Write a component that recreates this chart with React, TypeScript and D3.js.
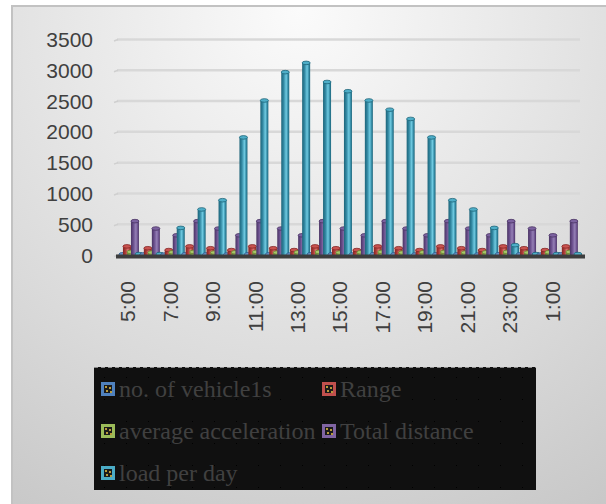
import React from 'react';
import * as d3 from 'd3';

// Hourly categories (5:00 through 2:00 of the next day)
const hours = [
  '5:00', '6:00', '7:00', '8:00', '9:00', '10:00', '11:00', '12:00', '13:00', '14:00', '15:00',
  '16:00', '17:00', '18:00', '19:00', '20:00', '21:00', '22:00', '23:00', '0:00', '1:00', '2:00',
];
const tickHours = ['5:00', '7:00', '9:00', '11:00', '13:00', '15:00', '17:00', '19:00', '21:00', '23:00', '1:00'];
const yTicks = [0, 500, 1000, 1500, 2000, 2500, 3000, 3500];

const seriesNames = ['no. of vehicle1s', 'Range', 'average acceleration', 'Total distance', 'load per day'];

const vehicles = [12, 10, 8, 12, 10, 8, 12, 10, 8, 12, 10, 8, 12, 10, 8, 12, 10, 8, 12, 10, 8, 12];
const rangeKm = [140, 110, 80, 140, 110, 80, 140, 110, 80, 140, 110, 80, 140, 110, 80, 140, 110, 80, 140, 110, 80, 140];
const avgAccel = [50, 40, 45, 50, 40, 45, 50, 40, 45, 50, 40, 45, 50, 40, 45, 50, 40, 45, 50, 40, 45, 50];
const totalDistance = [550, 430, 320, 550, 430, 320, 550, 430, 320, 550, 430, 320, 550, 430, 320, 550, 430, 320, 550, 430, 320, 550];
const loadPerDay = [15, 15, 440, 740, 890, 1910, 2510, 2970, 3120, 2810, 2660, 2510, 2360, 2210, 1910, 890, 740, 440, 160, 15, 15, 15];

const seriesValues = [vehicles, rangeKm, avgAccel, totalDistance, loadPerDay];

// Cylinder shading per series: edge, body, highlight, cap
const palette = [
  { key: '#4f81bd', edge: '#2c5a8c', body: '#4676b0', light: '#82a9d8', cap: '#6b95c9' },
  { key: '#c0504d', edge: '#852523', body: '#ad3b37', light: '#dc7672', cap: '#c9534f' },
  { key: '#9bbb59', edge: '#6a8430', body: '#8fb04c', light: '#bcd682', cap: '#a8c66a' },
  { key: '#8064a2', edge: '#4a3463', body: '#6a4f8d', light: '#9580b6', cap: '#7c62a0' },
  { key: '#4bacc6', edge: '#1d6479', body: '#3288a2', light: '#6fcae1', cap: '#4eaec8' },
];

const W = 606;
const H = 504;

export default function App() {
  const y = d3.scaleLinear().domain([0, 3500]).range([255, 39.5]);
  const xBack = d3.scaleBand<string>().domain(hours).range([120.5, 580.3]);
  const xFront = d3.scaleBand<string>().domain(hours).range([117, 584]);
  const offset = d3.scalePoint<string>().domain(seriesNames).range([-8, 8]);
  const barW = 8;
  const bw = xBack.bandwidth();

  const legendCols = [101, 322];
  const legendRows = [382, 424, 466];

  return (
    <svg
      width={W}
      height={H}
      style={{ position: 'absolute', left: 0, top: 0, display: 'block' }}
      xmlns="http://www.w3.org/2000/svg"
    >
      <defs>
        <radialGradient id="bg" gradientUnits="userSpaceOnUse" cx={300} cy={10} r={640}>
          <stop offset="0" stopColor="#fbfbfb" />
          <stop offset="0.42" stopColor="#e4e4e4" />
          <stop offset="0.6" stopColor="#dadada" />
          <stop offset="0.85" stopColor="#cbcbcb" />
          <stop offset="1" stopColor="#c2c2c2" />
        </radialGradient>
        {palette.map((p, i) => (
          <linearGradient key={i} id={`cyl${i}`} x1="0" x2="1" y1="0" y2="0">
            <stop offset="0" stopColor={p.edge} />
            <stop offset="0.3" stopColor={p.body} />
            <stop offset="0.62" stopColor={p.light} />
            <stop offset="0.85" stopColor={p.body} />
            <stop offset="1" stopColor={p.edge} />
          </linearGradient>
        ))}
        <pattern id="dots" width={22} height={22} patternUnits="userSpaceOnUse" x={94} y={367}>
          <rect width={22} height={22} fill="#101010" />
          <rect x={10} y={10} width={1} height={1} fill="#000000" />
        </pattern>
      </defs>

      <rect x={0} y={0} width={W} height={H} fill="#ffffff" />
      <rect x={11} y={6} width={W} height={H} fill="url(#bg)" />
      <line x1={11} x2={W} y1={6} y2={6} stroke="#c2c2c2" strokeWidth={2} />
      <line x1={12} x2={12} y1={6} y2={H} stroke="#c2c2c2" strokeWidth={2} />

      {/* back-wall gridlines */}
      {yTicks.map((t) => (
        <g key={t}>
          <line x1={117} x2={580} y1={y(t)} y2={y(t)} stroke="#d8d8d8" strokeWidth={2.5} />
          <line x1={114} x2={118} y1={y(t) + 1.5} y2={y(t)} stroke="#cfcfcf" strokeWidth={1.5} />
        </g>
      ))}

      {/* y axis labels */}
      {yTicks.map((t) => (
        <text
          key={t}
          x={93}
          y={y(t)}
          dy="0.36em"
          textAnchor="end"
          fontFamily="'Liberation Sans', Arial, sans-serif"
          fontSize={21}
          fill="#404040"
        >
          {t}
        </text>
      ))}

      {/* cylinders */}
      {hours.map((h, hi) => (
        <g key={h}>
          {seriesNames.map((s, si) => {
            const v = seriesValues[si][hi];
            const cx = (xBack(h) ?? 0) + bw / 2 + (offset(s) ?? 0);
            const top = y(v);
            const bottom = y(0);
            return (
              <g key={s}>
                <rect x={cx - barW / 2} y={top} width={barW} height={Math.max(0, bottom - top)} fill={`url(#cyl${si})`} />
                <ellipse cx={cx} cy={top} rx={barW / 2} ry={1.8} fill={palette[si].cap} stroke={palette[si].edge} strokeWidth={0.8} />
              </g>
            );
          })}
        </g>
      ))}

      {/* floor edge */}
      <rect x={116} y={254.5} width={469} height={4} fill="#3d3d3d" />

      {/* x axis labels */}
      {tickHours.map((h) => (
        <text
          key={h}
          transform={`translate(${(xFront(h) ?? 0) + xFront.bandwidth() / 2},281) rotate(-90)`}
          dy="0.36em"
          textAnchor="end"
          fontFamily="'Liberation Sans', Arial, sans-serif"
          fontSize={21}
          fill="#404040"
        >
          {h}
        </text>
      ))}

      {/* legend */}
      <rect x={94} y={367} width={442} height={123} fill="url(#dots)" />
      <line x1={94} x2={536} y1={367.5} y2={367.5} stroke="#8c8c8c" strokeWidth={1} strokeDasharray="4 3" />
      {seriesNames.map((s, i) => {
        const lx = legendCols[i % 2];
        const ly = legendRows[Math.floor(i / 2)];
        return (
          <g key={s}>
            <rect x={lx + 1.5} y={ly + 1.5} width={11} height={11} fill="#1a1a1a" stroke={palette[i].key} strokeWidth={3} />
            <rect x={lx + 4} y={ly + 4} width={2} height={2} fill="#b89a3a" />
            <rect x={lx + 8} y={ly + 5} width={2} height={2} fill="#b89a3a" />
            <rect x={lx + 5} y={ly + 8} width={2} height={2} fill="#b89a3a" />
            <rect x={lx + 9} y={ly + 9} width={2} height={2} fill="#b89a3a" />
            <text
              x={lx + 18}
              y={ly + 15}
              fontFamily="'Liberation Serif', 'Times New Roman', serif"
              fontSize={24}
              fill="#404040"
            >
              {s}
            </text>
          </g>
        );
      })}
    </svg>
  );
}
